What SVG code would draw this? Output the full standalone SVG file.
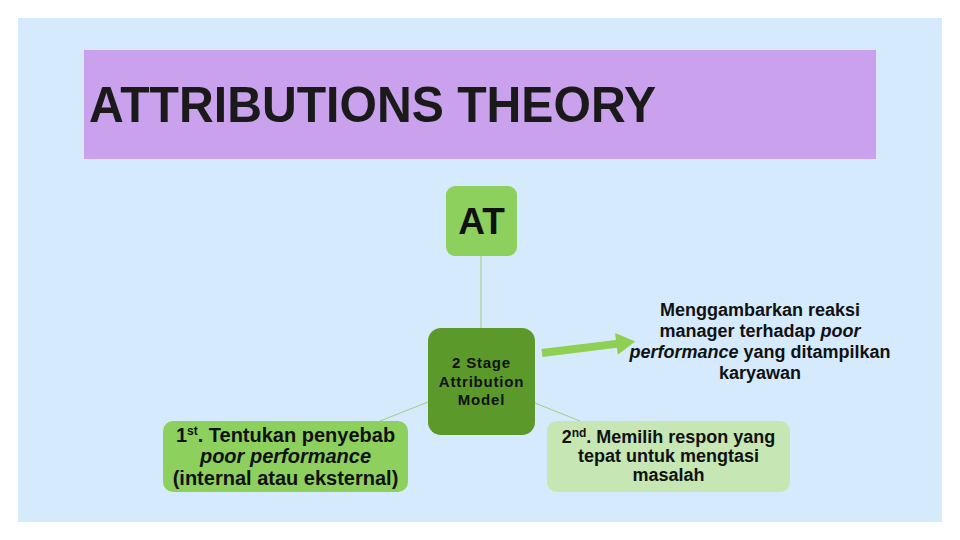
<svg xmlns="http://www.w3.org/2000/svg" width="960" height="540" viewBox="0 0 960 540">
<style>
.t{font-family:"Liberation Sans",Arial,sans-serif;font-weight:bold;fill:#111;text-anchor:middle}
.conn{stroke:#9fd07c;stroke-width:1;fill:none}
.sup{font-size:12px}
</style>
<rect x="0" y="0" width="960" height="540" fill="#ffffff"/>
<rect x="18" y="18" width="924" height="504" fill="#d5eafc"/>
<g id="title">
<rect x="84" y="50" width="792" height="109" fill="#c9a1ec"/>
<text x="89" y="122" font-family="Liberation Sans,Arial,sans-serif" font-weight="bold" font-size="50" fill="#1a1a1a" textLength="567" lengthAdjust="spacingAndGlyphs">ATTRIBUTIONS THEORY</text>
</g>
<g id="connectors">
<line class="conn" x1="481" y1="256" x2="481" y2="328"/>
<line class="conn" x1="428" y1="402" x2="380" y2="421"/>
<line class="conn" x1="535" y1="403" x2="580" y2="421"/>
<g transform="rotate(-7 542 353)" fill="#8fd052">
<rect x="542" y="349" width="77" height="8"/>
<polygon points="617,342 636,353 617,364"/>
</g>
</g>
<g id="node-at">
<rect x="446" y="186" width="71" height="70" rx="9" fill="#8dd05d"/>
<text class="t" x="481.5" y="234" font-size="37">AT</text>
</g>
<g id="node-model">
<rect x="428" y="328" width="107" height="107" rx="13" fill="#5b9a2a"/>
<text class="t" x="481.5" y="368" font-size="15" letter-spacing="0.8" fill="#1a1a1a"><tspan x="481.5">2 Stage</tspan><tspan x="481.5" dy="18.5">Attribution</tspan><tspan x="481.5" dy="18.5">Model</tspan></text>
</g>
<g id="node-first">
<rect x="163" y="421" width="245" height="71" rx="10" fill="#8dd05d"/>
<text class="t" font-size="20" x="285.5" y="442"><tspan>1</tspan><tspan class="sup" dy="-7">st</tspan><tspan dy="7">. Tentukan penyebab</tspan></text>
<text class="t" font-size="20" x="285.5" y="463" font-style="italic">poor performance</text>
<text class="t" font-size="20" x="285.5" y="485">(internal atau eksternal)</text>
</g>
<g id="node-desc">
<text class="t" font-size="18" x="760" y="316">Menggambarkan reaksi</text>
<text class="t" font-size="18" x="760" y="337">manager terhadap <tspan font-style="italic">poor</tspan></text>
<text class="t" font-size="18" x="760" y="358"><tspan font-style="italic">performance</tspan> yang ditampilkan</text>
<text class="t" font-size="18" x="760" y="379">karyawan</text>
</g>
<g id="node-second">
<rect x="547" y="421" width="243" height="71" rx="10" fill="#c6e6b4"/>
<text class="t" font-size="18" x="668.5" y="443"><tspan>2</tspan><tspan class="sup" dy="-6">nd</tspan><tspan dy="6">. Memilih respon yang</tspan></text>
<text class="t" font-size="18" x="668.5" y="462">tepat untuk mengtasi</text>
<text class="t" font-size="18" x="668.5" y="481">masalah</text>
</g>
</svg>
